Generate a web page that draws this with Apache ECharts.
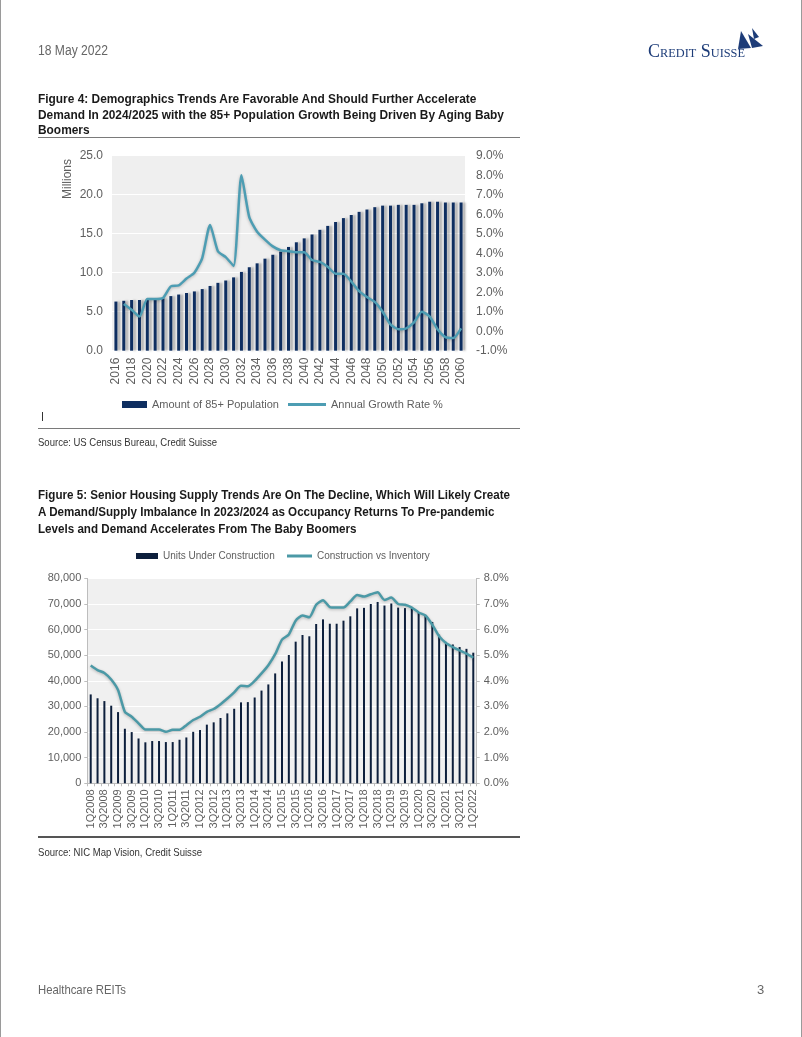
<!DOCTYPE html>
<html><head><meta charset="utf-8">
<script src="https://cdn.jsdelivr.net/npm/echarts@6/dist/echarts.min.js"></script>
<style>
html,body{margin:0;padding:0;background:#fff;}
#page{position:relative;width:802px;height:1037px;overflow:hidden;font-family:"Liberation Sans",Arial,sans-serif;}
#chart{position:absolute;left:0;top:0;width:802px;height:1037px;}
.t{position:absolute;white-space:nowrap;transform-origin:0 50%;display:inline-block;z-index:3;}
.ttl{font-weight:bold;font-size:12.5px;color:#1a1a1a;line-height:16px;}
.rule{position:absolute;z-index:3;}
</style></head>
<body>
<div id="page">
  <div id="chart"></div>
  <div class="rule" style="left:0;top:0;width:1px;height:1037px;background:#9a9a9a"></div>
  <div class="rule" style="left:801px;top:0;width:1px;height:1037px;background:#9a9a9a"></div>

  <span class="t" data-w="70" style="left:38px;top:42px;font-size:14px;line-height:16px;color:#666">18 May 2022</span>
  <span class="t" data-w="97" style="left:648px;top:42px;font-family:'Liberation Serif',serif;font-variant:small-caps;font-size:19px;line-height:18px;color:#1d3c78;letter-spacing:0">Credit Suisse</span>
  <svg style="position:absolute;left:722px;top:27px;z-index:3" width="46" height="28" viewBox="0 0 46 28">
    <polygon points="19,4 29,21 16,22" fill="#1d3c78"/>
    <polygon points="26,7 41,19 30,21" fill="#1d3c78"/>
    <polygon points="30,1 37,10 32,12" fill="#1d3c78"/>
  </svg>

  <span class="t ttl g1" style="left:38px;top:91px">Figure 4: Demographics Trends Are Favorable And Should Further Accelerate</span>
  <span class="t ttl g1 ref1" style="left:38px;top:107px">Demand In 2024/2025 with the 85+ Population Growth Being Driven By Aging Baby</span>
  <span class="t ttl g1" style="left:38px;top:122px">Boomers</span>
  <div class="rule" style="left:38px;top:137px;width:482px;height:1px;background:#7a7a7a"></div>
  <div class="rule" style="left:42px;top:412px;width:1px;height:9px;background:#333"></div>
  <div class="rule" style="left:38px;top:428px;width:482px;height:1px;background:#7a7a7a"></div>
  <span class="t" data-w="179" style="left:38px;top:436px;font-size:10.5px;line-height:12px;color:#333">Source: US Census Bureau, Credit Suisse</span>

  <span class="t ttl g2 ref2" style="left:38px;top:487px">Figure 5: Senior Housing Supply Trends Are On The Decline, Which Will Likely Create</span>
  <span class="t ttl g2" style="left:38px;top:504px">A Demand/Supply Imbalance In 2023/2024 as Occupancy Returns To Pre-pandemic</span>
  <span class="t ttl g2" style="left:38px;top:521px">Levels and Demand Accelerates From The Baby Boomers</span>
  <div class="rule" style="left:38px;top:836px;width:482px;height:2px;background:#555"></div>
  <span class="t" data-w="164" style="left:38px;top:846px;font-size:10.5px;line-height:12px;color:#333">Source: NIC Map Vision, Credit Suisse</span>

  <span class="t" data-w="88" style="left:38px;top:982px;font-size:13px;line-height:16px;color:#666">Healthcare REITs</span>
  <span class="t" style="left:757px;top:982px;font-size:13px;line-height:16px;color:#666">3</span>
</div>
<script>
// ---------- Figure 4 data ----------
const years = ['2016','2017','2018','2019','2020','2021','2022','2023','2024','2025','2026','2027','2028','2029','2030',
  '2031','2032','2033','2034','2035','2036','2037','2038','2039','2040','2041','2042','2043','2044','2045',
  '2046','2047','2048','2049','2050','2051','2052','2053','2054','2055','2056','2057','2058','2059','2060'];
const pop85Millions = [6.3,6.4,6.5,6.5,6.6,6.7,6.7,7.0,7.2,7.4,7.6,7.9,8.3,8.7,9.0,
  9.4,10.1,10.7,11.2,11.8,12.3,12.7,13.3,13.9,14.4,14.9,15.5,16.0,16.5,17.0,
  17.4,17.8,18.1,18.4,18.6,18.6,18.7,18.7,18.7,18.9,19.1,19.1,19.0,19.0,19.0];
const growthPct = [null,1.4,1.1,0.75,1.65,1.65,1.7,2.3,2.35,2.7,3.0,3.75,5.45,4.1,3.8,
  3.35,8.0,5.85,5.1,4.7,4.35,4.15,4.1,4.05,4.05,3.65,3.55,3.3,2.95,2.95,
  2.55,2.05,1.75,1.5,1.0,0.35,0.1,0.15,0.45,1.0,0.75,0.1,-0.3,-0.35,0.15];
const popTicks = {min:0, max:25, step:5};
const growthTicks = {min:-1, max:9, step:1};

// ---------- Figure 5 data ----------
const quarters = ['1Q2008','2Q2008','3Q2008','4Q2008','1Q2009','2Q2009','3Q2009','4Q2009',
  '1Q2010','2Q2010','3Q2010','4Q2010','1Q2011','2Q2011','3Q2011','4Q2011',
  '1Q2012','2Q2012','3Q2012','4Q2012','1Q2013','2Q2013','3Q2013','4Q2013',
  '1Q2014','2Q2014','3Q2014','4Q2014','1Q2015','2Q2015','3Q2015','4Q2015',
  '1Q2016','2Q2016','3Q2016','4Q2016','1Q2017','2Q2017','3Q2017','4Q2017',
  '1Q2018','2Q2018','3Q2018','4Q2018','1Q2019','2Q2019','3Q2019','4Q2019',
  '1Q2020','2Q2020','3Q2020','4Q2020','1Q2021','2Q2021','3Q2021','4Q2021','1Q2022'];
const unitsUnderConstruction = [34700,33200,32100,30300,27800,21300,20000,17500,
  16000,16500,16500,16100,16100,17000,17900,20100,
  20800,22900,23800,25500,27300,29100,31600,31700,
  33500,36200,38600,42900,47600,50100,55300,57900,
  57400,62200,64000,62300,62300,63500,65200,68300,
  68500,70000,70800,69400,70200,68600,68400,68300,
  66500,65500,63000,58000,55200,54200,53200,52500,51000];
const constructionVsInventoryPct = [4.6,4.42,4.31,4.05,3.64,2.79,2.6,2.34,
  2.1,2.1,2.1,2.01,2.09,2.09,2.27,2.47,
  2.6,2.79,2.9,3.09,3.31,3.55,3.81,3.79,
  4.0,4.29,4.61,5.04,5.61,5.81,6.35,6.55,
  6.48,6.97,7.15,6.88,6.86,6.86,7.1,7.35,
  7.29,7.38,7.46,7.16,7.25,7.0,6.97,6.86,
  6.67,6.55,6.19,5.74,5.48,5.32,5.19,5.06,4.9];
const unitsTicks = {min:0, max:80000, step:10000};
const pctTicks = {min:0, max:8, step:1};

// ---------- text fitting ----------
function fitGroup(sel, refEl, target){
  const w = refEl.getBoundingClientRect().width;
  const s = target / w;
  document.querySelectorAll(sel).forEach(el => el.style.transform = 'scaleX(' + s + ')');
}
fitGroup('.g1', document.querySelector('.ref1'), 466);
fitGroup('.g2', document.querySelector('.ref2'), 472);
document.querySelectorAll('[data-w]').forEach(el => {
  const w = el.getBoundingClientRect().width;
  el.style.transform = 'scaleX(' + (parseFloat(el.dataset.w) / w) + ')';
});

// ---------- chart ----------
const FONT = '"Liberation Sans", Arial, sans-serif';
const LBL = '#5f5f5f';
const TEAL1 = '#4d9db3', TEAL2 = '#4b99a6';
const chart = echarts.init(document.getElementById('chart'), null, {renderer:'canvas'});
chart.setOption({
  animation: false,
  backgroundColor: '#ffffff',
  textStyle: {fontFamily: FONT},
  grid: [
    {left:112, top:155.7, width:353, height:195, show:true, backgroundColor:'#efefef', borderWidth:0},
    {left:87.3, top:578.4, width:389.4, height:204.9, show:true, backgroundColor:'#f0f0f0', borderWidth:0}
  ],
  legend: [
    {data:[{name:'Amount of 85+ Population', icon:'rect'}], left:117, top:394, itemWidth:25, itemHeight:7,
     textStyle:{fontSize:11, color:LBL, fontFamily:FONT}},
    {data:[{name:'Annual Growth Rate %', icon:'rect', itemStyle:{color:TEAL1}}], left:283, top:394, itemWidth:38, itemHeight:3,
     textStyle:{fontSize:11, color:LBL, fontFamily:FONT}},
    {data:[{name:'Units Under Construction', icon:'rect'}], left:131, top:546, itemWidth:22, itemHeight:6,
     textStyle:{fontSize:10, color:LBL, fontFamily:FONT}},
    {data:[{name:'Construction vs Inventory', icon:'rect', itemStyle:{color:TEAL2}}], left:282, top:546, itemWidth:25, itemHeight:3,
     textStyle:{fontSize:10, color:LBL, fontFamily:FONT}}
  ],
  graphic: [
    {type:'text', x:68, y:179, rotation:Math.PI/2, z:10,
     style:{text:'Millions', fill:LBL, font:'12px ' + FONT, align:'center', verticalAlign:'middle'}}
  ],
  xAxis: [
    {gridIndex:0, type:'category', data:years, boundaryGap:true,
     axisLine:{show:false}, axisTick:{show:false},
     axisLabel:{rotate:90, interval:1, fontSize:12, color:LBL, margin:7, fontFamily:FONT}},
    {gridIndex:1, type:'category', data:quarters, boundaryGap:true,
     axisLine:{show:true, lineStyle:{color:'#bdbdbd', width:1}},
     axisTick:{show:true, interval:0, length:3, lineStyle:{color:'#bdbdbd'}},
     axisLabel:{rotate:90, interval:1, fontSize:11, color:LBL, margin:6, fontFamily:FONT}}
  ],
  yAxis: [
    {gridIndex:0, type:'value', position:'left', min:popTicks.min, max:popTicks.max, interval:popTicks.step,
     axisLine:{show:false}, axisTick:{show:false},
     splitLine:{show:true, lineStyle:{color:'#ffffff', width:1}},
     axisLabel:{formatter:v => v.toFixed(1), fontSize:12, color:LBL, margin:9, fontFamily:FONT}},
    {gridIndex:0, type:'value', position:'right', min:growthTicks.min, max:growthTicks.max, interval:growthTicks.step,
     axisLine:{show:false}, axisTick:{show:false}, splitLine:{show:false},
     axisLabel:{formatter:v => v.toFixed(1) + '%', fontSize:12, color:LBL, margin:11, fontFamily:FONT}},
    {gridIndex:1, type:'value', position:'left', min:unitsTicks.min, max:unitsTicks.max, interval:unitsTicks.step,
     axisLine:{show:true, lineStyle:{color:'#bdbdbd'}}, axisTick:{show:true, length:3, lineStyle:{color:'#bdbdbd'}},
     splitLine:{show:true, lineStyle:{color:'#ffffff', width:1}},
     axisLabel:{formatter:v => v.toLocaleString('en-US'), fontSize:11, color:LBL, margin:6, fontFamily:FONT}},
    {gridIndex:1, type:'value', position:'right', min:pctTicks.min, max:pctTicks.max, interval:pctTicks.step,
     axisLine:{show:true, lineStyle:{color:'#bdbdbd'}}, axisTick:{show:true, length:3, lineStyle:{color:'#bdbdbd'}},
     splitLine:{show:false},
     axisLabel:{formatter:v => v.toFixed(1) + '%', fontSize:11, color:LBL, margin:7, fontFamily:FONT}}
  ],
  series: [
    {name:'Amount of 85+ Population', type:'bar', xAxisIndex:0, yAxisIndex:0, data:pop85Millions,
     barWidth:3, itemStyle:{color:'#0e2e60', shadowColor:'rgba(70,70,70,0.35)', shadowOffsetX:3, shadowBlur:2}},
    {name:'Annual Growth Rate %', type:'line', xAxisIndex:0, yAxisIndex:1, data:growthPct,
     symbol:'none', smooth:0.2, connectNulls:false,
     lineStyle:{color:TEAL1, width:2.5, shadowColor:'rgba(0,0,0,0.25)', shadowBlur:3, shadowOffsetY:1},
     itemStyle:{color:TEAL1}},
    {name:'Units Under Construction', type:'bar', xAxisIndex:1, yAxisIndex:2, data:unitsUnderConstruction,
     barWidth:2, itemStyle:{color:'#0d1f3c'}},
    {name:'Construction vs Inventory', type:'line', xAxisIndex:1, yAxisIndex:3, data:constructionVsInventoryPct,
     symbol:'none', smooth:0.2,
     lineStyle:{color:TEAL2, width:2.5, shadowColor:'rgba(0,0,0,0.25)', shadowBlur:3, shadowOffsetY:1},
     itemStyle:{color:TEAL2}}
  ]
});
</script>
</body></html>
